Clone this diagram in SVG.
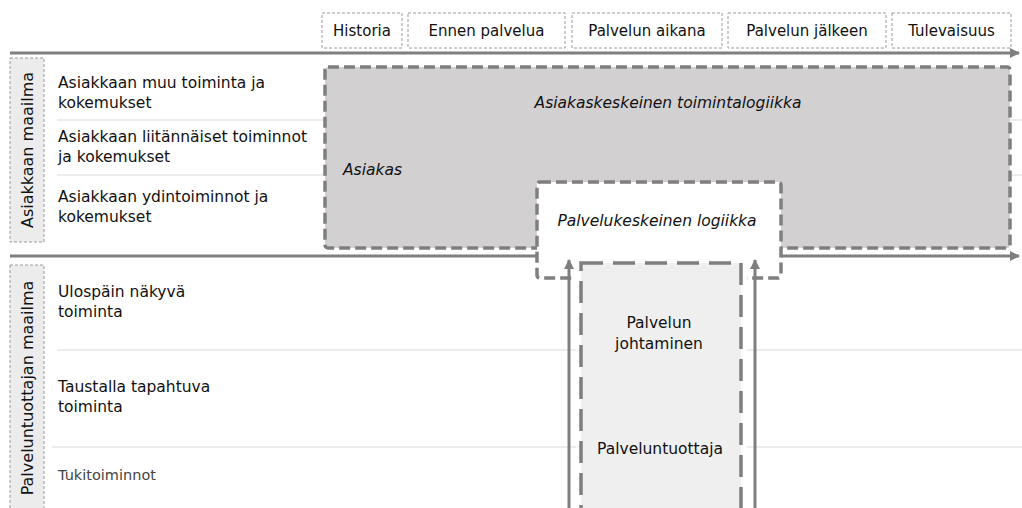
<svg xmlns="http://www.w3.org/2000/svg" width="1022" height="508" viewBox="0 0 1022 508">
  <defs>
    <marker id="arrowR" viewBox="0 0 10 10" refX="9" refY="5" markerWidth="3.4" markerHeight="3.4" orient="auto" markerUnits="strokeWidth">
      <path d="M0,0 L10,5 L0,10 Z" fill="#7f7f7f"/>
    </marker>
    <style>
      text { font-family: "DejaVu Sans", "Liberation Sans", sans-serif; fill: #111111; }
      .hdr { font-size: 15px; text-anchor: middle; }
      .row { font-size: 15.5px; }
      .small { font-size: 14.5px; fill: #444; }
      .ital { font-size: 15.5px; font-style: italic; }
      .mid { font-size: 15.5px; text-anchor: middle; }
      .vlab { font-size: 16px; text-anchor: middle; }
      .hbox { fill: #ffffff; stroke: #9a9a9a; stroke-width: 1; stroke-dasharray: 3 2; }
      .lbox { fill: #ececec; stroke: #9a9a9a; stroke-width: 1; stroke-dasharray: 3 2; }
      .sep { stroke: #dadada; stroke-width: 1.2; fill: none; }
      .axis { stroke: #7f7f7f; stroke-width: 3; fill: none; }
      .zone { stroke: #7f7f7f; stroke-width: 3.5; stroke-dasharray: 11 5; }
      .core { stroke: #7f7f7f; stroke-width: 3.5; stroke-dasharray: 22 10; fill: #efefef; }
    </style>
  </defs>

  <!-- row separators -->
  <g id="separators">
    <line class="sep" x1="57" y1="120" x2="1022" y2="120"/>
    <line class="sep" x1="57" y1="175" x2="1022" y2="175"/>
    <line class="sep" x1="57" y1="350" x2="1022" y2="350"/>
    <line class="sep" x1="52" y1="447" x2="1022" y2="447"/>
  </g>

  <!-- phase headers -->
  <g id="phase-historia">
    <rect class="hbox" x="322" y="13" width="80" height="35"/>
    <text class="hdr" x="362" y="36">Historia</text>
  </g>
  <g id="phase-ennen">
    <rect class="hbox" x="408" y="13" width="157" height="35"/>
    <text class="hdr" x="486.5" y="36">Ennen palvelua</text>
  </g>
  <g id="phase-aikana">
    <rect class="hbox" x="572" y="13" width="150" height="35"/>
    <text class="hdr" x="647" y="36">Palvelun aikana</text>
  </g>
  <g id="phase-jalkeen">
    <rect class="hbox" x="728" y="13" width="158" height="35"/>
    <text class="hdr" x="807" y="36">Palvelun jälkeen</text>
  </g>
  <g id="phase-tulevaisuus">
    <rect class="hbox" x="892" y="13" width="119" height="35"/>
    <text class="hdr" x="951.5" y="36">Tulevaisuus</text>
  </g>

  <!-- world labels -->
  <g id="asiakkaan-maailma">
    <rect class="lbox" x="10" y="58" width="34" height="184"/>
    <text class="vlab" transform="translate(33,150) rotate(-90)">Asiakkaan maailma</text>
  </g>
  <g id="palveluntuottajan-maailma">
    <rect class="lbox" x="10" y="265" width="34" height="250"/>
    <text class="vlab" transform="translate(33,388) rotate(-90)">Palveluntuottajan maailma</text>
  </g>

  <!-- row labels -->
  <g id="row-muu">
    <text class="row" x="58" y="88">Asiakkaan muu toiminta ja</text>
    <text class="row" x="58" y="108">kokemukset</text>
  </g>
  <g id="row-liitannaiset">
    <text class="row" x="58" y="142">Asiakkaan liitännäiset toiminnot</text>
    <text class="row" x="58" y="162">ja kokemukset</text>
  </g>
  <g id="row-ydin">
    <text class="row" x="58" y="202">Asiakkaan ydintoiminnot ja</text>
    <text class="row" x="58" y="222">kokemukset</text>
  </g>
  <g id="row-ulospain">
    <text class="row" x="58" y="297">Ulospäin näkyvä</text>
    <text class="row" x="58" y="317">toiminta</text>
  </g>
  <g id="row-taustalla">
    <text class="row" x="58" y="392">Taustalla tapahtuva</text>
    <text class="row" x="58" y="412">toiminta</text>
  </g>
  <g id="row-tuki">
    <text class="small" x="58" y="480">Tukitoiminnot</text>
  </g>

  <!-- customer-centric zone -->
  <g id="asiakas-zone">
    <rect class="zone" x="325" y="67" width="685" height="181" rx="3" fill="#d3d0d1"/>
    <text class="ital" x="668" y="108" text-anchor="middle">Asiakaskeskeinen toimintalogiikka</text>
    <text class="ital" x="343" y="175">Asiakas</text>
  </g>

  <!-- time axes -->
  <g id="connectors">
    <line class="axis" x1="10" y1="53" x2="1019" y2="53" marker-end="url(#arrowR)"/>
    <line class="axis" x1="10" y1="256" x2="1019" y2="256" marker-end="url(#arrowR)"/>
  </g>

  <!-- service-centric logic -->
  <g id="palvelu-zone">
    <rect class="zone" x="537" y="182" width="244" height="96" rx="3" fill="#ffffff"/>
    <text class="ital" x="657" y="226" text-anchor="middle">Palvelukeskeinen logiikka</text>
  </g>

  <!-- provider core -->
  <g id="palveluntuottaja">
    <rect x="576" y="258" width="171" height="260" fill="#ffffff"/>
    <rect class="core" x="581" y="263" width="160" height="260"/>
    <text class="mid" x="659" y="328">Palvelun</text>
    <text class="mid" x="659" y="349">johtaminen</text>
    <text class="mid" x="660" y="454">Palveluntuottaja</text>
  </g>

  <!-- upward arrows -->
  <g id="connectors-up">
    <line class="axis" x1="569" y1="508" x2="569" y2="260" marker-end="url(#arrowR)"/>
    <line class="axis" x1="755" y1="508" x2="755" y2="260" marker-end="url(#arrowR)"/>
  </g>
</svg>
